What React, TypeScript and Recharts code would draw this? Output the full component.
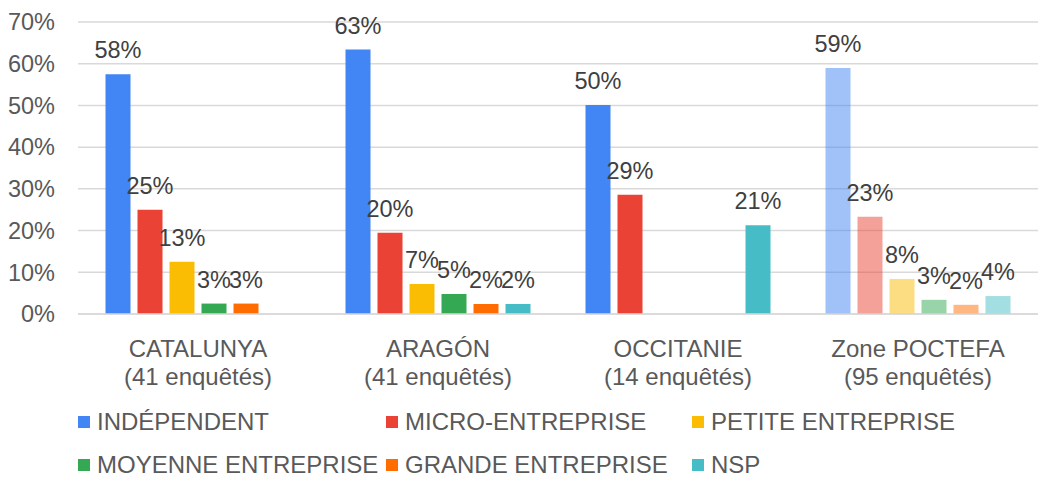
import { BarChart, Bar, XAxis, YAxis, CartesianGrid, Legend, LabelList, Cell } from "recharts";

const regions = ["CATALUNYA", "ARAGÓN", "OCCITANIE", "Zone POCTEFA"];
const surveyCounts = [41, 41, 14, 95];

const independant = [57.5, 63.4, 50.1, 59];
const micro = [25, 19.5, 28.6, 23.3];
const petite = [12.5, 7.2, null, 8.4];
const moyenne = [2.5, 4.8, null, 3.4];
const grande = [2.5, 2.4, null, 2.2];
const nsp = [null, 2.4, 21.3, 4.3];

const yTicks = [0, 10, 20, 30, 40, 50, 60, 70];

const series = [
  { key: "independant", name: "INDÉPENDENT", color: "#4285f4", values: independant },
  { key: "micro", name: "MICRO-ENTREPRISE", color: "#ea4335", values: micro },
  { key: "petite", name: "PETITE ENTREPRISE", color: "#fbbc04", values: petite },
  { key: "moyenne", name: "MOYENNE ENTREPRISE", color: "#34a853", values: moyenne },
  { key: "grande", name: "GRANDE ENTREPRISE", color: "#ff6d01", values: grande },
  { key: "nsp", name: "NSP", color: "#46bdc6", values: nsp },
];

const data = regions.map((region, i) => {
  const row: any = { region, count: surveyCounts[i] };
  series.forEach((s) => (row[s.key] = s.values[i]));
  return row;
});

const FONT = "'Liberation Sans', Arial, sans-serif";

const CategoryTick = (props: any) => {
  const { x, y, payload } = props;
  return (
    <text x={x} y={y} textAnchor="middle" fill="#595959" fontSize={24} fontFamily={FONT}>
      <tspan x={x} dy={35}>{payload.value}</tspan>
      <tspan x={x} dy={28}>({surveyCounts[payload.index]} enquêtés)</tspan>
    </text>
  );
};

const legendCols = [78, 386, 692];

const ChartLegend = () => (
  <div style={{ position: "relative", width: 1040, height: 70, fontFamily: FONT }}>
    {series.map((s, i) => {
      const left = legendCols[i % 3];
      const top = i < 3 ? 11 : 54;
      return (
        <div key={s.key} style={{ position: "absolute", left, top, display: "flex", alignItems: "center", height: 22 }}>
          <span style={{ width: 12, height: 12, background: s.color, display: "inline-block", marginRight: 7 }} />
          <span style={{ fontSize: 24, color: "#595959", lineHeight: "22px", whiteSpace: "nowrap" }}>{s.name}</span>
        </div>
      );
    })}
  </div>
);

export default function App() {
  return (
    <div style={{ position: "absolute", left: 0, top: 0, width: 1040, height: 477, background: "#fff" }}>
      <BarChart
        width={1040}
        height={477}
        data={data}
        margin={{ top: 22, right: 2, left: 0, bottom: 133 }}
        barCategoryGap={27.5}
        barGap={7}
      >
        <CartesianGrid vertical={false} stroke="#d9d9d9" strokeWidth={1.5} />
        <XAxis
          dataKey="region"
          height={30}
          axisLine={{ stroke: "#d9d9d9", strokeWidth: 1.5 }}
          tickLine={false}
          tick={<CategoryTick />}
          interval={0}
        />
        <YAxis
          width={78}
          domain={[0, 70]}
          ticks={yTicks}
          axisLine={false}
          tickLine={false}
          tickSize={0}
          tickMargin={23}
          tickFormatter={(v: number) => `${v}%`}
          tick={{ fill: "#595959", fontSize: 23.5, fontFamily: FONT }}
        />
        <Legend
          verticalAlign="middle"
          align="center"
          layout="horizontal"
          content={<ChartLegend />}
          wrapperStyle={{ left: 0, top: 400, width: 1040 }}
        />
        {series.map((s) => (
          <Bar key={s.key} dataKey={s.key} name={s.name} fill={s.color} isAnimationActive={false}>
            {data.map((_, i) => (
              <Cell key={`cell-${i}`} fill={s.color} fillOpacity={i === data.length - 1 ? 0.5 : 1} />
            ))}
            <LabelList
              dataKey={s.key}
              position="top"
              offset={16}
              fill="#404040"
              fontSize={23.5}
              fontFamily={FONT}
              formatter={(v: any) => (v ? `${Math.round(v)}%` : "")}
            />
          </Bar>
        ))}
      </BarChart>
    </div>
  );
}
